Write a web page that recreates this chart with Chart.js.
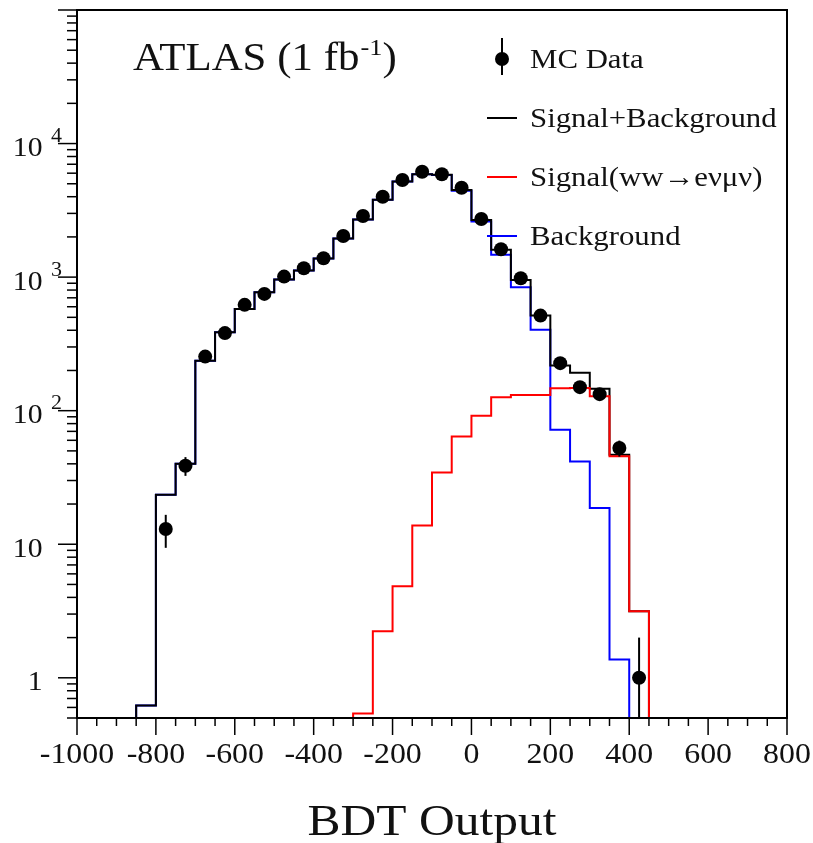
<!DOCTYPE html>
<html>
<head>
<meta charset="utf-8">
<script src="https://cdn.jsdelivr.net/npm/chart.js@4.4.1/dist/chart.umd.min.js"></script>
<style>
  html, body { margin: 0; padding: 0; background: #fff; }
  #wrap { width: 813px; height: 843px; position: relative; }
</style>
</head>
<body>
<div id="wrap"><canvas id="myChart"></canvas></div>
<script>
// -- histogram data (bins of 50, lower edges) --
const binWidth = 50;
const binEdges = [-850, -800, -750, -700, -650, -600, -550, -500, -450, -400, -350, -300, -250,
                  -200, -150, -100, -50, 0, 50, 100, 150, 200, 250, 300, 350, 400];
const totalCounts  = [0.62, 23.5, 40, 236, 387, 578, 771, 960, 1120, 1380, 1950, 2700, 3800,
                      5200, 5900, 5850, 4500, 2680, 1600, 953, 515, 218, 192, 146, 46.8, 3.15];
const signalCounts = [null, null, null, null, null, null, null, null, null, null, null, 0.54, 2.23,
                      4.84, 13.8, 34.5, 64, 91.6, 126, 131, 131, 147, 148, 128, 45.5, 3.15];
const bgCounts     = [0.62, 23.5, 40, 236, 387, 578, 771, 960, 1120, 1380, 1950, 2700, 3795,
                      5190, 5880, 5810, 4430, 2610, 1470, 840, 403, 72, 41.7, 18.7, 1.37, null];
const dataCounts   = [null, 13, 38.7, 254, 381, 620, 749, 1009, 1166, 1384, 2033, 2870, 4000,
                      5330, 6150, 5890, 4670, 2725, 1617, 981, 515, 227, 150, 133, 52.5, 1.0];
const dataErrors   = [null, 3.6, 6.2, 16, 19.5, 25, 27, 32, 34, 37, 45, 54, 63,
                      73, 78, 77, 68, 52, 40, 31, 23, 15, 12, 11.5, 7.2, 1.0];

// -- axes --
const xTicks = [-1000, -800, -600, -400, -200, 0, 200, 400, 600, 800];
const yMajorTicks = [1, 10, 100, 1000, 10000];
const yTickBase   = ['1', '10', '10', '10', '10'];
const yTickExp    = ['', '', '2', '3', '4'];
const Y_MIN = 0.5, Y_MAX = 1e5;

const legendLabels = ['MC Data', 'Signal+Background', 'Signal(ww\u2192e\u03bd\u03bc\u03bd)', 'Background'];
const legendColors = ['#000', '#000', '#ff0000', '#0000ff'];

const SERIF = '"Liberation Serif", "Times New Roman", serif';
const SX = 1.1;   // reference text is a bit wide
const INK = '#111';

function histPoints(vals) {
    let first = vals.findIndex(v => v != null);
    let last = vals.length - 1;
    while (vals[last] == null) last--;
    const pts = [{ x: binEdges[first], y: Y_MIN }];
    for (let i = first; i <= last; i++) pts.push({ x: binEdges[i], y: vals[i] });
    pts.push({ x: binEdges[last] + binWidth, y: Y_MIN });
    return pts;
}

const dataPoints = [];
binEdges.forEach((e, i) => {
    if (dataCounts[i] != null) dataPoints.push({ x: e + binWidth / 2, y: dataCounts[i], err: dataErrors[i] });
});

function txt(ctx, s, x, y, size, align) {
    ctx.save();
    ctx.font = size + 'px ' + SERIF;
    const w = ctx.measureText(s).width * SX;
    const x0 = align === 'center' ? x - w / 2 : align === 'right' ? x - w : x;
    ctx.translate(x0, y);
    ctx.scale(SX, 1);
    ctx.textAlign = 'left';
    ctx.textBaseline = 'alphabetic';
    ctx.fillStyle = INK;
    ctx.fillText(s, 0, 0);
    ctx.restore();
    return w;
}

// error bars for the data points
const errorBars = {
    id: 'errorBars',
    afterDatasetsDraw(chart) {
        const { ctx, scales: { x, y }, chartArea } = chart;
        ctx.save();
        ctx.strokeStyle = '#000';
        ctx.lineWidth = 2;
        dataPoints.forEach(p => {
            const px = x.getPixelForValue(p.x);
            const lo = p.y - p.err;
            const yTop = y.getPixelForValue(p.y + p.err);
            const yBot = lo > Y_MIN ? y.getPixelForValue(lo) : chartArea.bottom;
            ctx.beginPath();
            ctx.moveTo(px, yTop);
            ctx.lineTo(px, yBot);
            ctx.stroke();
        });
        ctx.restore();
    }
};

// ROOT style frame, ticks, labels, legend
const rootFrame = {
    id: 'rootFrame',
    afterDraw(chart) {
        const { ctx, scales: { x, y }, chartArea: a } = chart;
        ctx.save();
        ctx.strokeStyle = '#000';
        ctx.lineWidth = 2;
        ctx.strokeRect(a.left, a.top, a.right - a.left, a.bottom - a.top);

        // x ticks
        ctx.lineWidth = 1.5;
        for (let v = -1000; v <= 800; v += 50) {
            const px = x.getPixelForValue(v);
            const major = v % 200 === 0;
            ctx.beginPath();
            ctx.moveTo(px, a.bottom);
            ctx.lineTo(px, a.bottom + (major ? 17 : 8));
            ctx.stroke();
        }
        xTicks.forEach(v => txt(ctx, String(v), x.getPixelForValue(v), 763, 29, 'center'));

        // y ticks
        for (let d = 0.1; d < Y_MAX * 1.01; d *= 10) {
            for (let m = 1; m <= 9; m++) {
                const v = m * d;
                if (v < Y_MIN * 0.999 || v > Y_MAX * 1.001) continue;
                const py = y.getPixelForValue(v);
                ctx.beginPath();
                ctx.moveTo(a.left, py);
                ctx.lineTo(a.left - (m === 1 ? 19 : 10), py);
                ctx.stroke();
            }
        }
        yMajorTicks.forEach((v, i) => {
            const py = y.getPixelForValue(v);
            txt(ctx, yTickBase[i], 42.5, py + 12.5, 27, 'right');
            if (yTickExp[i]) txt(ctx, yTickExp[i], 51, py - 1.5, 20, 'left');
        });

        // axis title
        txt(ctx, 'BDT Output', (a.left + a.right) / 2, 835, 45, 'center');

        // ATLAS label
        let cx = 133;
        cx += txt(ctx, 'ATLAS (1 fb', cx, 70, 39, 'left');
        cx += txt(ctx, '-1', cx + 1, 55, 24, 'left') + 1;
        txt(ctx, ')', cx, 70, 39, 'left');

        // legend
        const rows = [68, 127, 186, 245];
        legendLabels.forEach((lab, i) => {
            const cy = rows[i] - 9;
            if (i === 0) {
                ctx.fillStyle = '#000';
                ctx.beginPath();
                ctx.arc(502, cy, 7, 0, Math.PI * 2);
                ctx.fill();
                ctx.lineWidth = 2;
                ctx.beginPath();
                ctx.moveTo(502, 38);
                ctx.lineTo(502, 75);
                ctx.stroke();
            } else {
                ctx.strokeStyle = legendColors[i];
                ctx.lineWidth = 2;
                ctx.beginPath();
                ctx.moveTo(487, cy);
                ctx.lineTo(517, cy);
                ctx.stroke();
            }
            txt(ctx, lab, 530, rows[i], 28, 'left');
        });
        ctx.restore();
    }
};

const histStyle = { type: 'line', stepped: true, pointRadius: 0, borderWidth: 2, fill: false, tension: 0 };

function draw() {
    const ctx = document.getElementById('myChart').getContext('2d');
    new Chart(ctx, {
        type: 'line',
        data: {
            datasets: [
                { label: 'MC Data', type: 'scatter', data: dataPoints, pointRadius: 7,
                  backgroundColor: '#000', borderColor: '#000', borderWidth: 0, order: 0 },
                { label: 'Signal', data: histPoints(signalCounts), borderColor: '#ff0000', order: 1, ...histStyle },
                { label: 'Signal+Background', data: histPoints(totalCounts), borderColor: '#000', order: 2, ...histStyle },
                { label: 'Background', data: histPoints(bgCounts), borderColor: '#0000ff', order: 3, ...histStyle }
            ]
        },
        options: {
            responsive: true,
            maintainAspectRatio: false,
            animation: false,
            layout: { padding: { left: 77, right: 26, top: 10, bottom: 125 } },
            scales: {
                x: { type: 'linear', min: -1000, max: 800, display: false },
                y: { type: 'logarithmic', min: Y_MIN, max: Y_MAX, display: false }
            },
            plugins: { legend: { display: false }, tooltip: { enabled: false } }
        },
        plugins: [errorBars, rootFrame]
    });
}

if (document.fonts && document.fonts.load) {
    document.fonts.load('28px "Liberation Serif"').then(draw, draw);
} else {
    draw();
}
</script>
</body>
</html>
